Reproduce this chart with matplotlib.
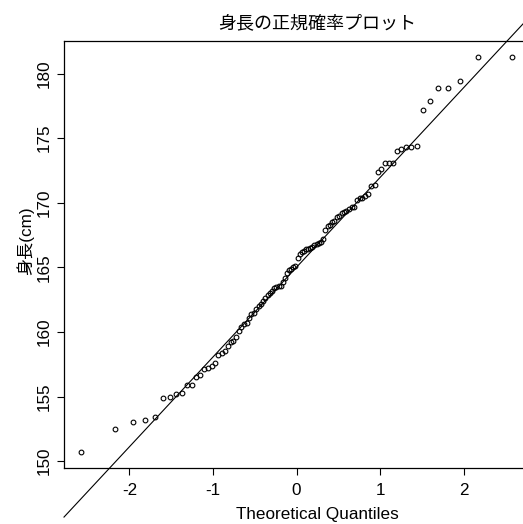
from statistics import NormalDist

import numpy as np
import matplotlib
matplotlib.use('Agg')
import matplotlib.pyplot as plt

# 身長データ (cm), 昇順
shincho = [
    150.7, 152.5, 153.0, 153.2, 153.4, 154.9, 155.0, 155.2, 155.3, 155.9,
    155.9, 156.5, 156.7, 157.1, 157.2, 157.4, 157.6, 158.2, 158.4, 158.5,
    158.9, 159.2, 159.3, 159.6, 160.1, 160.4, 160.6, 160.7, 161.1, 161.4,
    161.5, 161.8, 162.0, 162.2, 162.4, 162.6, 162.9, 163.0, 163.2, 163.4,
    163.5, 163.6, 163.6, 163.9, 164.2, 164.6, 164.8, 164.9, 165.0, 165.1,
    165.7, 166.0, 166.2, 166.3, 166.4, 166.4, 166.5, 166.6, 166.7, 166.8,
    166.9, 167.0, 167.2, 167.9, 168.2, 168.3, 168.5, 168.6, 168.9, 169.0,
    169.2, 169.3, 169.4, 169.5, 169.7, 169.7, 170.2, 170.4, 170.4, 170.5,
    170.7, 171.3, 171.4, 172.4, 172.6, 173.1, 173.1, 173.1, 174.0, 174.2,
    174.3, 174.3, 174.4, 177.2, 177.9, 178.9, 178.9, 179.4, 181.3, 181.3,
]
x_ticks = [-2, -1, 0, 1, 2]
y_ticks = [150, 155, 160, 165, 170, 175, 180]

y = np.sort(np.array(shincho))
n = len(y)
# 理論分位点 (Rの ppoints と同じ)
nd = NormalDist()
q = np.array([nd.inv_cdf((i - 0.5) / n) for i in range(1, n + 1)])

# qqline: 四分位点を通る直線
q1, q3 = np.percentile(y, [25, 75])
z1, z3 = nd.inv_cdf(0.25), nd.inv_cdf(0.75)
slope = (q3 - q1) / (z3 - z1)
intercept = q1 - slope * z1

W, H = 523, 524
fig = plt.figure(figsize=(W / 100, H / 100), dpi=100)
ax = fig.add_axes([64 / W, (H - 468) / H, (529 - 64) / W, (468 - 41) / H])

xr = q.max() - q.min()
yr = y.max() - y.min()
xlim = (q.min() - 0.04 * xr, q.max() + 0.04 * xr)
ax.set_xlim(xlim)
ax.set_ylim(y.min() - 0.04 * yr, y.max() + 0.04 * yr)

ax.plot(q, y, 'o', ms=3.4, mfc='none', mec='black', mew=0.8)
xs = np.array(xlim)
ax.plot(xs, intercept + slope * xs, color='black', lw=0.8, clip_on=False)

for s in ax.spines.values():
    s.set_linewidth(0.9)

ax.set_xticks(x_ticks)
ax.set_yticks(y_ticks)
ax.set_xticklabels([str(v) for v in x_ticks], fontsize=12.3, family='Liberation Sans')
ax.set_yticklabels([str(v) for v in y_ticks], fontsize=12.3, family='Liberation Sans',
                   rotation=90, va='center')
ax.tick_params(axis='both', direction='out', length=5, width=0.8)
ax.tick_params(axis='x', pad=6)
ax.tick_params(axis='y', pad=4)

fig.text(317.5 / W, 1 - 23 / H, '身長の正規確率プロット', ha='center', va='center',
         fontsize=13, family=['Noto Sans CJK JP'])
fig.text(317.5 / W, 1 - 515 / H, 'Theoretical Quantiles', ha='center', va='center',
         fontsize=12.3, family='Liberation Sans')
fig.text(25 / W, 1 - 241 / H, '身長(cm)', ha='center', va='center', rotation=90,
         fontsize=12.3, family=['Liberation Sans', 'Noto Sans CJK JP'])

fig.savefig('out.png', dpi=100)
